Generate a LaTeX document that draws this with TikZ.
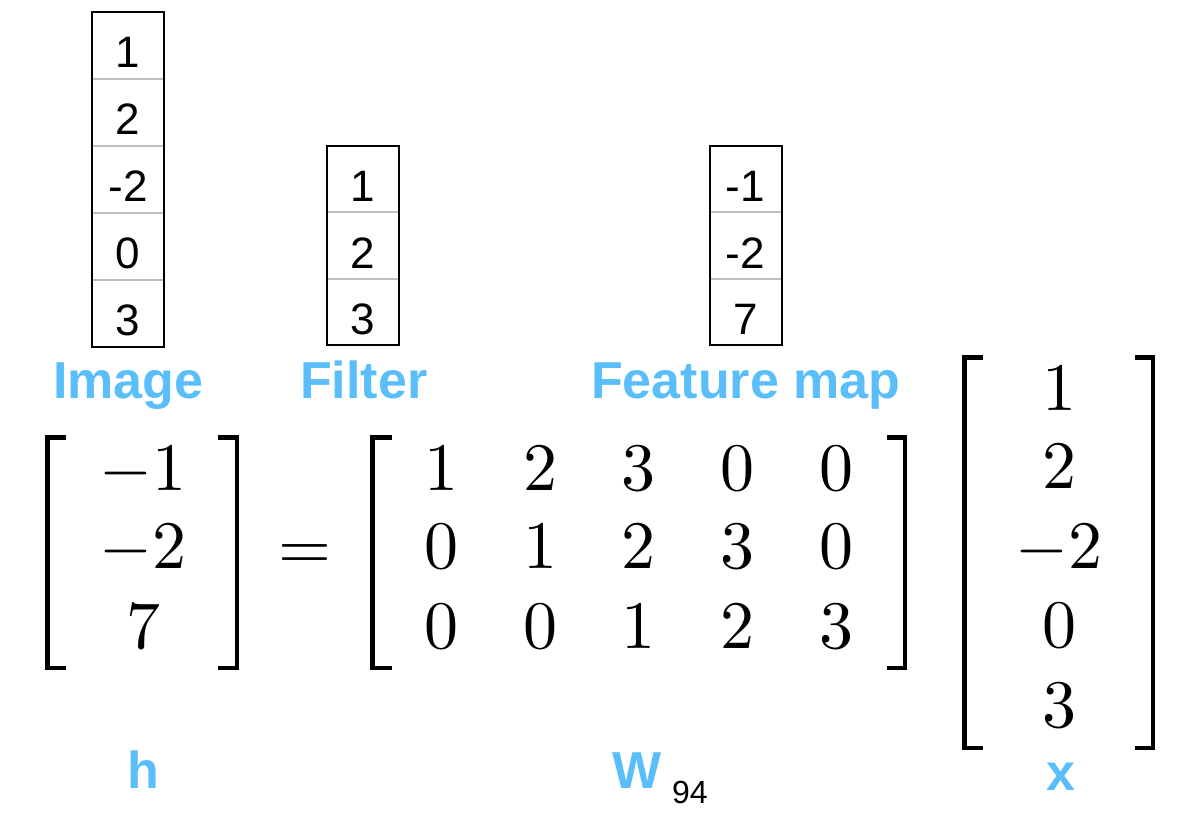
\RequirePackage{fix-cm}
\documentclass[tikz,border=0pt]{standalone}
\usepackage{graphicx}
\usepackage[no-math]{fontspec}
\newfontfamily\helv{Liberation Sans}
\definecolor{lblue}{RGB}{90,190,250}
\definecolor{divgray}{RGB}{190,190,190}
\newcommand{\mymath}[1]{\scalebox{6.8}{$#1$}}
\begin{document}
\begin{tikzpicture}[x=1pt,y=-1pt]
\useasboundingbox (0,0) rectangle (1186,814);
\tikzset{
 cellnum/.style={font=\helv\fontsize{44}{50}\selectfont, anchor=base, inner sep=0},
 lbl/.style={font=\helv\bfseries\fontsize{52}{58}\selectfont, text=lblue, anchor=base west, inner sep=0},
 mnum/.style={font=\fontsize{10}{12}\selectfont, anchor=base, inner sep=0},
 divider/.style={draw=divgray, line width=2},
 colbox/.style={draw=black, line width=2},
 brk/.style={draw=black, line width=4.5, line join=miter, line cap=butt}
}
% ---------- Image column ----------
\foreach \y in {79,146,213,280} \draw[divider] (92,\y) -- (164,\y);
\draw[colbox] (92,12) rectangle (164,347);
\node[cellnum] (i1) at (128,67) {1};
\node[cellnum] (i2) at (128,134) {2};
\node[cellnum] (i3) at (128,201) {-2};
\node[cellnum] (i4) at (128,268) {0};
\node[cellnum] (i5) at (128,335) {3};
% ---------- Filter column ----------
\foreach \y in {212,279} \draw[divider] (327,\y) -- (399,\y);
\draw[colbox] (327,146) rectangle (399,345);
\node[cellnum] (f1) at (363,201) {1};
\node[cellnum] (f2) at (363,268) {2};
\node[cellnum] (f3) at (363,334) {3};
% ---------- Feature map column ----------
\foreach \y in {212,279} \draw[divider] (710,\y) -- (782,\y);
\draw[colbox] (710,146) rectangle (782,345);
\node[cellnum] (m1) at (745,201) {-1};
\node[cellnum] (m2) at (745,268) {-2};
\node[cellnum] (m3) at (746,334) {7};
% ---------- Labels ----------
\node[lbl] (limage) at (53,398) {Image};
\node[lbl] (lfilter) at (300,398) {Filter};
\node[lbl] (lfeat) at (591,398) {Feature map};
\node[lbl] (lh) at (127,788) {h};
\node[lbl] (lW) at (612,788) {W};
\node[font=\helv\fontsize{32}{36}\selectfont, anchor=base west, inner sep=0] (lpage) at (672,803) {94};
\node[lbl] (lx) at (1046,790) {x};
% ---------- h vector ----------
\draw[brk] (66,437.25) -- (47.25,437.25) -- (47.25,667.75) -- (66,667.75);
\draw[brk] (218,437.25) -- (236.75,437.25) -- (236.75,667.75) -- (218,667.75);
\node[mnum] (h1) at (143,490) {\mymath{-1}};
\node[mnum] (h2) at (143,568) {\mymath{-2}};
\node[mnum] (h3) at (143,648) {\mymath{7}};
% ---------- equals ----------
\node[mnum] (eq) at (305,569) {\mymath{=}};
% ---------- W matrix ----------
\draw[brk] (392,437.25) -- (372.25,437.25) -- (372.25,667.75) -- (392,667.75);
\draw[brk] (887,437.25) -- (904.75,437.25) -- (904.75,667.75) -- (887,667.75);
\foreach \r/\yy in {1/490,2/568,3/648} {
  \foreach \c/\xx in {1/441,2/540,3/638,4/737,5/836} {
    \pgfmathtruncatemacro{\v}{(\c-\r>=0 && \c-\r<=2) ? (\c-\r+1) : 0}
    \node[mnum] (w\r\c) at (\xx,\yy) {\mymath{\v}};
  }
}
% ---------- x vector ----------
\draw[brk] (983,357.25) -- (964.25,357.25) -- (964.25,747.75) -- (983,747.75);
\draw[brk] (1135,357.25) -- (1152.75,357.25) -- (1152.75,747.75) -- (1135,747.75);
\node[mnum] (x1) at (1059,410) {\mymath{1}};
\node[mnum] (x2) at (1059,488) {\mymath{2}};
\node[mnum] (x3) at (1059,568) {\mymath{-2}};
\node[mnum] (x4) at (1059,647) {\mymath{0}};
\node[mnum] (x5) at (1059,727) {\mymath{3}};
\end{tikzpicture}
\end{document}
